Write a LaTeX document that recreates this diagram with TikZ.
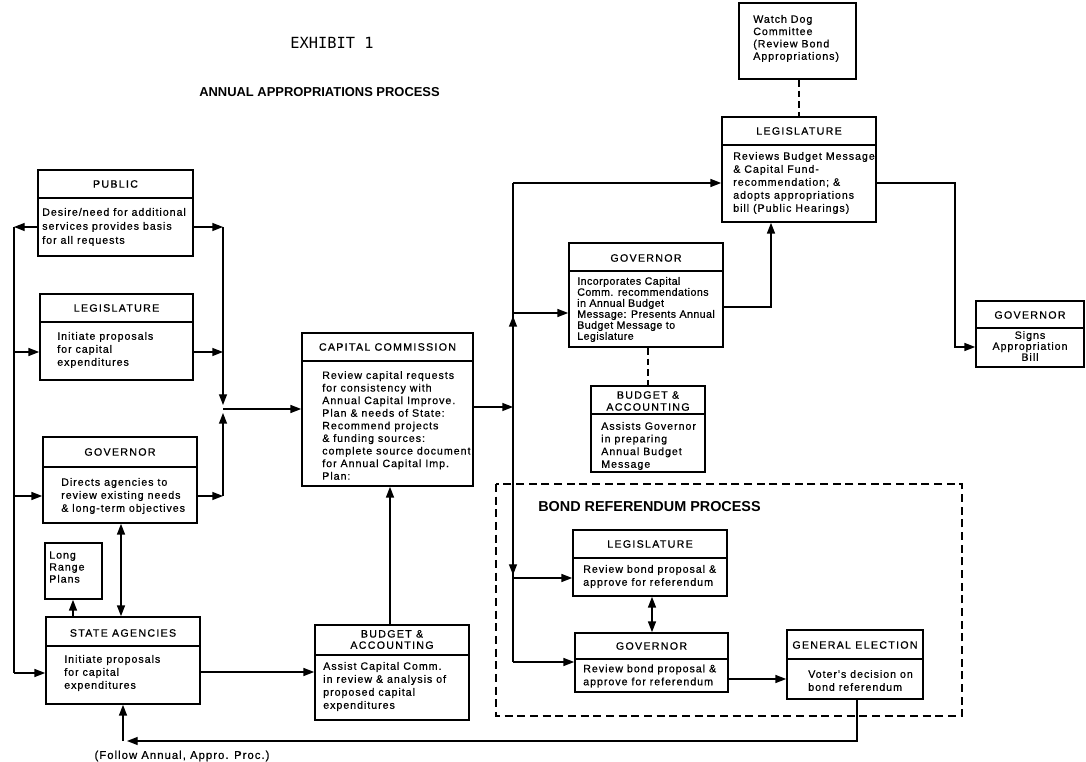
\documentclass[tikz,border=0pt]{standalone}
\usepackage{fontspec}
\setmainfont{Liberation Sans}
\newfontfamily\bodyf[LetterSpace=9,FakeBold=0.6]{Liberation Sans}
\newfontfamily\bodyn[LetterSpace=4,FakeBold=0.6]{Liberation Sans}
\newfontfamily\headf[LetterSpace=12,FakeBold=0.6]{Liberation Sans}
\newfontfamily\monof{DejaVu Sans Mono}
\usetikzlibrary{arrows.meta}
\tikzset{
  frame/.style={draw, line width=1.3pt, inner sep=0pt},
  frameline/.style={line width=1.3pt},
  head/.style={font={\headf\fontsize{8}{#1}\selectfont}, align=center, inner sep=0pt},
  head/.default=9.5,
  body/.style={font={\bodyf\fontsize{8}{#1}\selectfont}, align=left, inner sep=0pt, anchor=west},
  body/.default=9.75,
  conn/.style={line width=1pt},
  arr/.style={conn, -{Triangle[length=8pt,width=6pt]}},
  darr/.style={conn, {Triangle[length=8pt,width=6pt]}-{Triangle[length=8pt,width=6pt]}},
  dlink/.style={line width=1pt, dash pattern=on 5pt off 3pt},
}
\newcommand\mkbox[5]{\node[frame, minimum width={(#4-#2)*0.75pt}, minimum height={(#5-#3)*0.75pt}] (#1) at ({(#2+#4)/2},{(#3+#5)/2}) {};}
\newcommand\divline[2]{\draw[frameline] (#1.west |- 0,#2) -- (#1.east |- 0,#2);}
\begin{document}
\begin{tikzpicture}[x=0.75pt,y=-0.75pt]
\fill[white] (0,0) rectangle (1086,762);
\useasboundingbox (0,0) rectangle (1086,762);

% titles
\node[font={\monof\fontsize{11.5}{13}\selectfont}] (t1) at (332,43) {EXHIBIT 1};
\node[font={\bfseries\fontsize{9.7}{12}\selectfont}] (t2) at (319.5,92) {ANNUAL APPROPRIATIONS PROCESS};

% PUBLIC
\mkbox{pub}{38}{170}{193}{256}
\divline{pub}{198}
\node[head] (pubh) at (115.5,184) {PUBLIC};
\node[body=10.5] (pubb) at (42,227) {Desire/need for additional\\services provides basis\\for all requests};

% LEGISLATURE left
\mkbox{legl}{40}{294}{193}{380}
\divline{legl}{322}
\node[head] (leglh) at (116.5,308) {LEGISLATURE};
\node[body] (leglb) at (57,350) {Initiate proposals\\for capital\\expenditures};

% GOVERNOR left
\mkbox{govl}{43}{437}{197}{523}
\divline{govl}{467}
\node[head] (govlh) at (120,452) {GOVERNOR};
\node[body] (govlb) at (61,496) {Directs agencies to\\review existing needs\\\& long-term objectives};

% LONG RANGE PLANS
\mkbox{lrp}{45}{543}{102}{599}
\node[body=9] (lrpb) at (49,567) {Long\\Range\\Plans};

% STATE AGENCIES
\mkbox{sa}{46}{617}{200}{704}
\divline{sa}{646}
\node[head] (sah) at (123,633) {STATE AGENCIES};
\node[body] (sab) at (64,673) {Initiate proposals\\for capital\\expenditures};

% CAPITAL COMMISSION
\mkbox{cc}{302}{333}{473}{486}
\divline{cc}{361}
\node[head] (cch) at (387.5,347) {CAPITAL COMMISSION};
\node[body=9.45] (ccb) at (322,425.5) {Review capital requests\\for consistency with\\Annual Capital Improve.\\Plan \& needs of State:\\Recommend projects\\\& funding sources:\\complete source document\\for Annual Capital Imp.\\Plan:};

% BUDGET & ACCOUNTING bottom
\mkbox{budb}{315}{625}{469}{720}
\divline{budb}{655}
\node[head=8.5] (budbh) at (392,639.5) {BUDGET \&\\ACCOUNTING};
\node[body] (budbb) at (323,686.5) {Assist Capital Comm.\\in review \& analysis of\\proposed capital\\expenditures};

% GOVERNOR middle
\mkbox{govm}{569}{243}{723}{347}
\divline{govm}{271}
\node[body=8.25, font={\bodyn\fontsize{8}{8.25}\selectfont}] (govmb) at (577,309.5) {Incorporates Capital\\Comm. recommendations\\in Annual Budget\\Message: Presents Annual\\Budget Message to\\Legislature};
\node[head] (govmh) at (646,258) {GOVERNOR};

% BUDGET & ACCOUNTING middle
\mkbox{budm}{591}{386}{705}{472}
\divline{budm}{414}
\node[head=9] (budmh) at (648,401) {BUDGET \&\\ACCOUNTING};
\node[body=9.5] (budmb) at (601,446) {Assists Governor\\in preparing\\Annual Budget\\Message};

% WATCH DOG
\mkbox{wd}{739}{3}{856}{79}
\node[body=9.25] (wdb) at (753,38.5) {Watch Dog\\Committee\\(Review Bond\\Appropriations)};

% LEGISLATURE top
\mkbox{legt}{722}{117}{876}{222}
\divline{legt}{145}
\node[head] (legth) at (799,131) {LEGISLATURE};
\node[body] (legtb) at (733,183) {Reviews Budget Message\\\& Capital Fund-\\recommendation; \&\\adopts appropriations\\bill (Public Hearings)};

% GOVERNOR right
\mkbox{govr}{976}{301}{1084}{367}
\divline{govr}{328}
\node[head] (govrh) at (1030,315) {GOVERNOR};
\node[body=8.25, anchor=center, align=center] (govrb) at (1030,346) {Signs\\Appropriation\\Bill};

% BOND REFERENDUM PROCESS
\draw[line width=1.3pt, dash pattern=on 6pt off 3.5pt] (496,484) rectangle (962,716);
\node[font={\bfseries\fontsize{10.8}{13}\selectfont}] (bondt) at (649.5,507) {BOND REFERENDUM PROCESS};

\mkbox{legb}{573}{530}{727}{596}
\divline{legb}{558}
\node[head] (legbh) at (650,544) {LEGISLATURE};
\node[body] (legbb) at (583,576.5) {Review bond proposal \&\\approve for referendum};

\mkbox{govb}{575}{633}{728}{692}
\divline{govb}{659}
\node[head] (govbh) at (651.5,646) {GOVERNOR};
\node[body] (govbb) at (583,676) {Review bond proposal \&\\approve for referendum};

\mkbox{ge}{787}{630}{923}{699}
\divline{ge}{659}
\node[head] (geh) at (855,645) {GENERAL ELECTION};
\node[body] (geb) at (808,680.5) {Voter's decision on\\bond referendum};

\node[font={\bodyf\fontsize{8.5}{10}\selectfont}] (follow) at (182,756) {(Follow Annual, Appro. Proc.)};

% coordinates
\coordinate (lt) at (14,227);
\coordinate (lb) at (14,673);
\coordinate (rt) at (223,227);
\coordinate (rb) at (223,496);
\coordinate (rj) at (223,409);
\coordinate (mt) at (513,183);
\coordinate (mj) at (513,407);
\coordinate (mb) at (513,662);
\coordinate (rr) at (955,183);
\coordinate (gm) at (771,307);
\coordinate (bl) at (123,741);
\coordinate (br) at (857,741);

% left collector
\draw[arr] (pub.west |- lt) -- (lt);
\draw[conn] (lt) -- (lb);
\draw[arr] (14,352) -- (legl.west |- 0,352);
\draw[arr] (14,496) -- (govl.west |- 0,496);
\draw[arr] (lb) -- (sa.west |- lb);

% right collector
\draw[arr] (pub.east |- rt) -- (rt);
\draw[arr] (legl.east |- 0,352) -- (223,352);
\draw[arr] (govl.east |- rb) -- (rb);
\draw[arr] (rt) -- (223,405);
\draw[arr] (rb) -- (223,413);
\draw[arr] (rj) -- (cc.west |- rj);

% governor <-> state agencies, long range plans
\draw[darr] (govl.south -| 121,0) -- (sa.north -| 121,0);
\draw[arr] (sa.north -| 73,0) -- (lrp.south -| 73,0);

% state agencies -> budget -> capital commission
\draw[arr] (sa.east |- 0,672) -- (budb.west |- 0,672);
\draw[arr] (budb.north -| 390,0) -- (cc.south -| 390,0);

% capital commission -> distribution line
\draw[arr] (cc.east |- mj) -- (mj);
\draw[conn] (mt) -- (mb);
\draw[arr] (mj) -- (513,316);
\draw[arr] (mj) -- (513,575);
\draw[arr] (mt) -- (legt.west |- mt);
\draw[arr] (513,313) -- (govm.west |- 0,313);
\draw[arr] (513,578) -- (legb.west |- 0,578);
\draw[arr] (mb) -- (govb.west |- mb);

% governor middle -> legislature top
\draw[arr] (govm.east |- gm) -- (gm) -- (legt.south -| gm);
% legislature top -> governor right
\draw[arr] (legt.east |- rr) -- (rr) -- (955,347) -- (govr.west |- 0,347);

% dashed links
\draw[dlink] (govm.south -| 648,0) -- (budm.north -| 648,0);
\draw[dlink] (wd.south -| 799,0) -- (legt.north -| 799,0);

% bond process
\draw[darr] (legb.south -| 652,0) -- (govb.north -| 652,0);
\draw[arr] (govb.east |- 0,679) -- (ge.west |- 0,679);
\draw[arr] (ge.south -| br) -- (br) -- (127,741);
\draw[arr] (bl) -- (sa.south -| bl);
\end{tikzpicture}
\end{document}
